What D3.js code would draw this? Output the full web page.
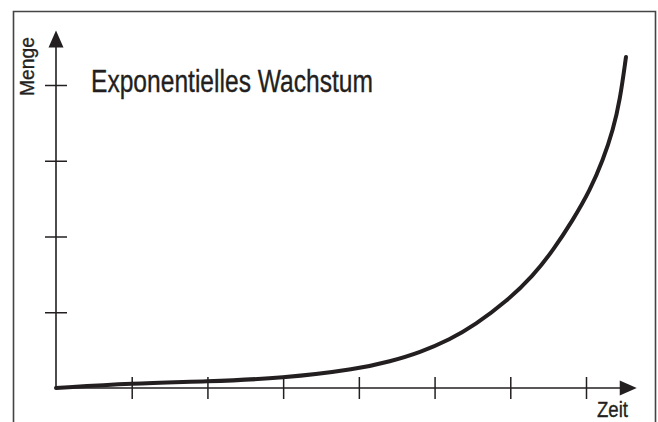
<!DOCTYPE html>
<html><head><meta charset="utf-8">
<script src="https://cdn.jsdelivr.net/npm/d3@7"></script>
<style>html,body{margin:0;padding:0;background:#fff;}svg{display:block;}</style>
</head><body>
<svg id="chart" width="658" height="422"></svg>
<script>
// Data (time units vs. quantity units)
const timeValues = [0, 1.004, 1.994, 2.998, 3.989, 4.411, 4.808, 5.204, 5.534, 5.957, 6.300, 6.564, 6.828, 7.053, 7.225, 7.357, 7.449, 7.528];
const amountValues = [0, 0.062, 0.086, 0.128, 0.251, 0.350, 0.469, 0.640, 0.832, 1.149, 1.480, 1.815, 2.218, 2.610, 3.010, 3.406, 3.802, 4.370];
const xTickValues = [1, 2, 3, 4, 5, 6, 7];
const yTickValues = [1, 2, 3, 4];
const titleText = "Exponentielles Wachstum";
const xLabel = "Zeit";
const yLabel = "Menge";

const svg = d3.select("#chart");
const ink = "#231f20";
const font = "'Liberation Sans', Arial, sans-serif";

const x = d3.scaleLinear().domain([0, 7]).range([56, 586]);
const y = d3.scaleLinear().domain([0, 4]).range([388, 85]);

// frame (open at bottom)
svg.append("path")
  .attr("d", "M13.5,422 L13.5,11.5 L655.5,11.5 L655.5,422")
  .attr("fill", "none").attr("stroke", "#444").attr("stroke-width", 1.6);

// x axis ticks
const xAxis = d3.axisBottom(x).tickValues(xTickValues).tickSize(22).tickSizeOuter(0).tickFormat("");
const gx = svg.append("g").attr("transform", `translate(0,${y(0) - 11})`).call(xAxis);
gx.select(".domain").remove();
gx.selectAll(".tick line").attr("stroke", ink).attr("stroke-width", 1.5);

// y axis ticks
const yAxis = d3.axisRight(y).tickValues(yTickValues).tickSize(22).tickSizeOuter(0).tickFormat("");
const gy = svg.append("g").attr("transform", `translate(${x(0) - 11},0)`).call(yAxis);
gy.select(".domain").remove();
gy.selectAll(".tick line").attr("stroke", ink).attr("stroke-width", 1.5);

// axis lines
const x0 = x(0), y0 = y(0);
const xTip = x(7.67), yTip = y(4.72);
svg.append("line").attr("x1", x0).attr("y1", y0).attr("x2", xTip - 14).attr("y2", y0)
  .attr("stroke", ink).attr("stroke-width", 1.6);
svg.append("line").attr("x1", x0).attr("y1", y0).attr("x2", x0).attr("y2", yTip + 14)
  .attr("stroke", ink).attr("stroke-width", 1.6);
// arrowheads
svg.append("path").attr("d", `M${xTip},${y0} L${xTip - 17},${y0 - 7.5} L${xTip - 17},${y0 + 7.5} Z`).attr("fill", ink);
svg.append("path").attr("d", `M${x0},${yTip} L${x0 - 7.5},${yTip + 17} L${x0 + 7.5},${yTip + 17} Z`).attr("fill", ink);

// curve
const pts = timeValues.map((t, i) => [t, amountValues[i]]);
const line = d3.line().x(d => x(d[0])).y(d => y(d[1])).curve(d3.curveBasis);
svg.append("path").datum(pts).attr("d", line)
  .attr("fill", "none").attr("stroke", ink).attr("stroke-width", 4).attr("stroke-linecap", "round");

// texts
function label(sel) {
  return sel.attr("font-family", font).attr("fill", ink)
    .attr("stroke", ink).attr("stroke-width", 0.35).attr("lengthAdjust", "spacingAndGlyphs");
}
label(svg.append("text")).attr("x", 91).attr("y", 92).attr("font-size", 31)
  .attr("textLength", 282).text(titleText);
label(svg.append("text")).attr("x", 597).attr("y", 417).attr("font-size", 22)
  .attr("textLength", 31).text(xLabel);
label(svg.append("text")).attr("transform", "translate(33.5,96) rotate(-90)").attr("font-size", 20)
  .attr("textLength", 59).text(yLabel);
</script>
</body></html>
